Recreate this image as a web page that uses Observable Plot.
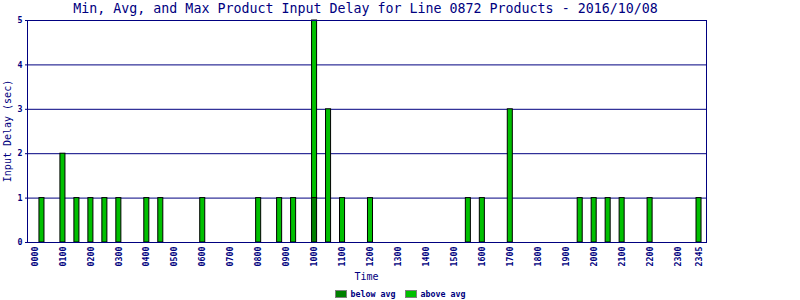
<!DOCTYPE html>
<html>
<head>
<meta charset="utf-8">
<script src="https://cdn.jsdelivr.net/npm/d3@7"></script>
<script src="https://cdn.jsdelivr.net/npm/@observablehq/plot@0.6"></script>
<style>
  html, body { margin: 0; padding: 0; background: #fff; }
  #wrap { position: relative; width: 800px; height: 300px; overflow: hidden; font-family: "DejaVu Sans Mono", monospace; color: #000080; }
  #title { position: absolute; left: 0; top: 0; width: 731px; text-align: center; font-size: 13.3px; line-height: 17px; white-space: nowrap; }
  #chart { position: absolute; left: 0; top: 0; }
  #ylabel { position: absolute; left: 8px; top: 131px; transform: translate(-50%, -50%) rotate(-90deg); font-size: 10px; white-space: nowrap; line-height: 12px; }
  #xlabel { position: absolute; left: 0; top: 271px; width: 733px; text-align: center; font-size: 10px; line-height: 12px; }
  #legend { position: absolute; left: 0; top: 289px; width: 800px; display: flex; justify-content: center; gap: 9px; font-size: 8.3px; font-weight: bold; line-height: 10px; }
  .item { display: flex; align-items: center; gap: 4px; }
  .sw { width: 10px; height: 6px; border: 1px solid #808080; }
</style>
</head>
<body>
<div id="wrap">
  <div id="chart"></div>
  <div id="title">Min, Avg, and Max Product Input Delay for Line 0872 Products - 2016/10/08</div>
  <div id="ylabel">Input Delay (sec)</div>
  <div id="xlabel">Time</div>
  <div id="legend"></div>
</div>
<script>
// 15-minute time slots with non-empty values
const times = ["0015","0100","0130","0200","0230","0300","0400","0430","0600","0800","0845","0915","1000","1030","1100","1200","1530","1600","1700","1930","2000","2030","2100","2200","2345"];
const belowAvg = [0,0,0,0,0,0,0,0,0,0,0,0,1,0,0,0,0,0,0,0,0,0,0,0,0];
const aboveAvg = [1,2,1,1,1,1,1,1,1,1,1,1,4,3,1,1,1,1,3,1,1,1,1,1,1];
const tickLabels = ["0000","0100","0200","0300","0400","0500","0600","0700","0800","0900","1000","1100","1200","1300","1400","1500","1600","1700","1800","1900","2000","2100","2200","2300","2345"];
const yTicks = [0,1,2,3,4,5];
const seriesNames = ["below avg", "above avg"];
const seriesColors = ["#008000", "#00c000"];

// all 96 quarter-hour slots of the day as band categories
const slots = [];
for (let h = 0; h < 24; h++) for (const m of ["00","15","30","45"]) slots.push(String(h).padStart(2,"0") + m);

const rows = [];
times.forEach((t, i) => {
  rows.push({time: t, series: seriesNames[0], value: belowAvg[i]});
  rows.push({time: t, series: seriesNames[1], value: aboveAvg[i]});
});

const navy = "#000080";
const chart = Plot.plot({
  width: 800,
  height: 285,
  marginTop: 20,
  marginBottom: 43,
  marginLeft: 27,
  marginRight: 94,
  style: {fontFamily: "DejaVu Sans Mono, monospace", fontSize: "8.3px", color: navy, background: "transparent"},
  x: {domain: slots, range: [30, 703], padding: 0.28},
  y: {domain: [0, 5]},
  color: {domain: seriesNames, range: seriesColors},
  marks: [
    Plot.ruleY(yTicks.filter(d => d > 0), {stroke: navy, strokeWidth: 1}),
    Plot.barY(rows.filter(d => d.value > 0), Plot.stackY({order: seriesNames, x: "time", y: "value", fill: "series", stroke: "#000", strokeWidth: 1})),
    Plot.axisX({ticks: tickLabels, tickSize: 0, tickPadding: 4, tickRotate: -90, label: null, fontWeight: "bold", fill: navy}),
    Plot.axisY({ticks: yTicks, tickFormat: d3.format("d"), tickSize: 2, tickPadding: 3, label: null, fontWeight: "bold", fill: navy, stroke: navy}),
    Plot.frame({stroke: navy, strokeWidth: 1})
  ]
});
document.getElementById("chart").appendChild(chart);

const legend = document.getElementById("legend");
seriesNames.forEach((name, i) => {
  const item = document.createElement("div");
  item.className = "item";
  const sw = document.createElement("div");
  sw.className = "sw";
  sw.style.background = seriesColors[i];
  const label = document.createElement("span");
  label.textContent = name;
  item.appendChild(sw);
  item.appendChild(label);
  legend.appendChild(item);
});
</script>
</body>
</html>
